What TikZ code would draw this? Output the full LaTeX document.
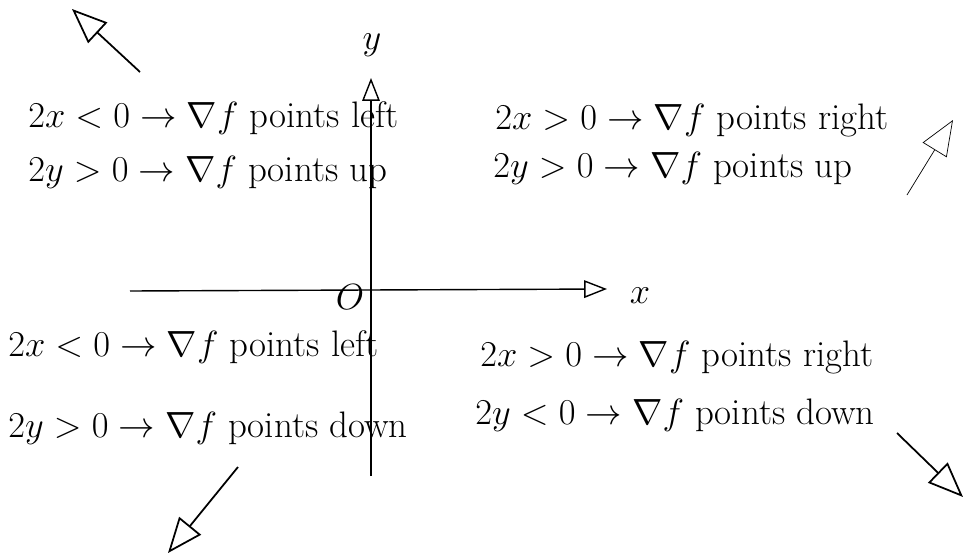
\documentclass[tikz,border=0pt]{standalone}
\usetikzlibrary{arrows.meta}
\tikzset{
  cond/.style={font=\fontsize{21}{25}\selectfont, anchor=west, inner sep=0pt},
  axislabel/.style={font=\fontsize{22}{26}\selectfont, inner sep=0pt},
  dirarrow/.style={-{Triangle[open, length=20pt, width=16pt]}, line width=1pt}
}
\begin{document}
\begin{tikzpicture}[>={Triangle[open, length=13pt, width=10pt]}, x=0.02cm, y=-0.02cm]
        \useasboundingbox (0,0) rectangle (965,558);
        % axes
        \coordinate (xs) at (130,291);
        \coordinate (xe) at (607,289);
        \coordinate (ys) at (371,476);
        \coordinate (ye) at (371,78);
        \draw [->, line width=0.8pt] (xs)--(xe);
        \draw [->, line width=0.8pt] (ys)--(ye);
        \node [axislabel] (xl) at (640,296) {$x$};
        \node [axislabel] (yl) at (372,45) {$y$};
        \node [axislabel] (o) at (350,297) {$O$};
        % quadrant II
        \node [cond] (tla) at (28,118) {$2x<0\rightarrow\nabla f$ points left};
        \node [cond] (tlb) at (28,172) {$2y>0\rightarrow\nabla f$ points up};
        % quadrant I
        \node [cond] (tra) at (495,120) {$2x>0\rightarrow\nabla f$ points right};
        \node [cond] (trb) at (493,168) {$2y>0\rightarrow\nabla f$ points up};
        % quadrant III
        \node [cond] (bla) at (8,347) {$2x<0\rightarrow\nabla f$ points left};
        \node [cond] (blb) at (8,428) {$2y>0\rightarrow\nabla f$ points down};
        % quadrant IV
        \node [cond] (bra) at (480,357) {$2x>0\rightarrow\nabla f$ points right};
        \node [cond] (brb) at (475,415) {$2y<0\rightarrow\nabla f$ points down};
        % gradient directions
        \coordinate (tlt) at (140,72);
        \coordinate (tlh) at (72,9);
        \coordinate (trt) at (907,195);
        \coordinate (trh) at (953,120);
        \coordinate (blt) at (238,467);
        \coordinate (blh) at (168,553);
        \coordinate (brt) at (897,433);
        \coordinate (brh) at (963,497);
        \draw [dirarrow] (tlt)--(tlh);
        \draw [dirarrow, thin] (trt)--(trh);
        \draw [dirarrow] (blt)--(blh);
        \draw [dirarrow] (brt)--(brh);
\end{tikzpicture}
\end{document}
